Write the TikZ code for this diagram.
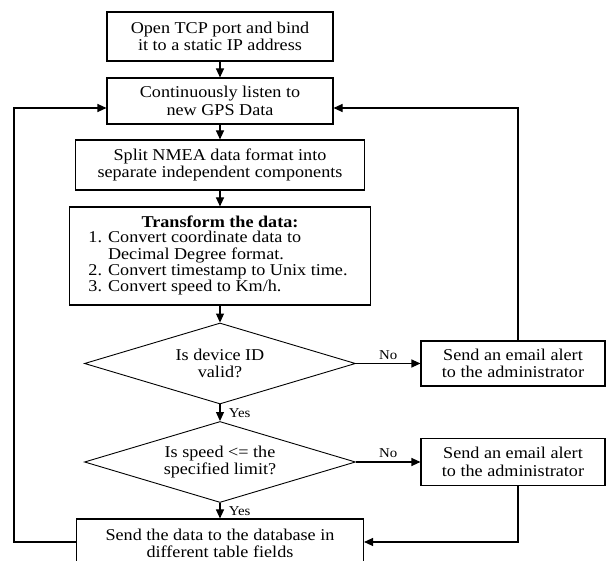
\documentclass[tikz,border=0pt]{standalone}
\usepackage{fontspec}
\setmainfont{Liberation Serif}[FakeStretch=1.1]
\usetikzlibrary{shapes.geometric,arrows.meta}

\begin{document}
\begin{tikzpicture}[x=1pt, y=-1pt,
        font=\fontsize{16.5}{17.5}\selectfont,
        box/.style={draw, rectangle, line width=1.1pt, align=center, inner sep=0pt},
        decision/.style={draw, diamond, aspect=3.3, line width=0.9pt, align=center, inner sep=0pt,
            minimum width=271pt, minimum height=81pt},
        flow/.style={-{Triangle[length=9pt,width=8pt]}, line width=1.1pt},
        tag/.style={font=\fontsize{13.5}{14}\selectfont}]
        \useasboundingbox (0, 0) rectangle (606, 561);

        % Main column
        \node[box, minimum width=226pt, minimum height=49pt] (open) at (220, 36.5) {Open TCP port and bind\\it to a static IP address};
        \node[box, minimum width=226pt, minimum height=46pt] (listen) at (220, 101) {Continuously listen to\\new GPS Data};
        \node[box, minimum width=289pt, minimum height=50pt] (split) at (220, 165) {Split NMEA data format into\\separate independent components};
        \node[box, minimum width=301pt, minimum height=98pt] (trans) at (220, 256) {\textbf{Transform the data:}\\[3pt]
            \fontsize{16.5}{16}\selectfont
            \begin{tabular}{@{}r@{\hspace{6pt}}l@{\hspace{4pt}}}
                1. & Convert coordinate data to\\
                   & Decimal Degree format.\\
                2. & Convert timestamp to Unix time.\\
                3. & Convert speed to Km/h.
            \end{tabular}};
        \node[decision] (valid) at (220, 363.5) {Is device ID\\valid?};
        \node[decision] (speed) at (220, 462) {Is speed <= the\\specified limit?};
        \node[box, minimum width=287pt, minimum height=49pt] (db) at (220, 543.5) {Send the data to the database in\\different table fields};

        % Alerts
        \node[box, minimum width=184pt, minimum height=45pt] (mail1) at (513, 363.5) {Send an email alert\\to the administrator};
        \node[box, minimum width=184pt, minimum height=47pt] (mail2) at (513, 462) {Send an email alert\\to the administrator};

        \coordinate (lturn) at (14, 108);
        \coordinate (rturn) at (518, 108);

        \draw[flow] (open) -- (listen);
        \draw[flow] (listen) -- (split);
        \draw[flow] (split) -- (trans);
        \draw[flow] (trans) -- (valid);
        \draw[flow] (valid) -- node[tag, right, xshift=5pt] {Yes} (speed);
        \draw[flow] (speed) -- node[tag, right, xshift=5pt] {Yes} (db);
        \draw[flow] (valid) -- node[tag, above] {No} (mail1);
        \draw[flow] (speed) -- node[tag, above] {No} (mail2);

        % Loops back
        \draw[flow] (db.west |- 0, 542) -| (lturn) -- (lturn -| listen.west);
        \draw[flow] (mail1.north -| rturn) -- (rturn) -- (rturn -| listen.east);
        \draw[flow] (mail2.south -| rturn) |- (db.east |- 0, 542);
    \end{tikzpicture}
\end{document}
